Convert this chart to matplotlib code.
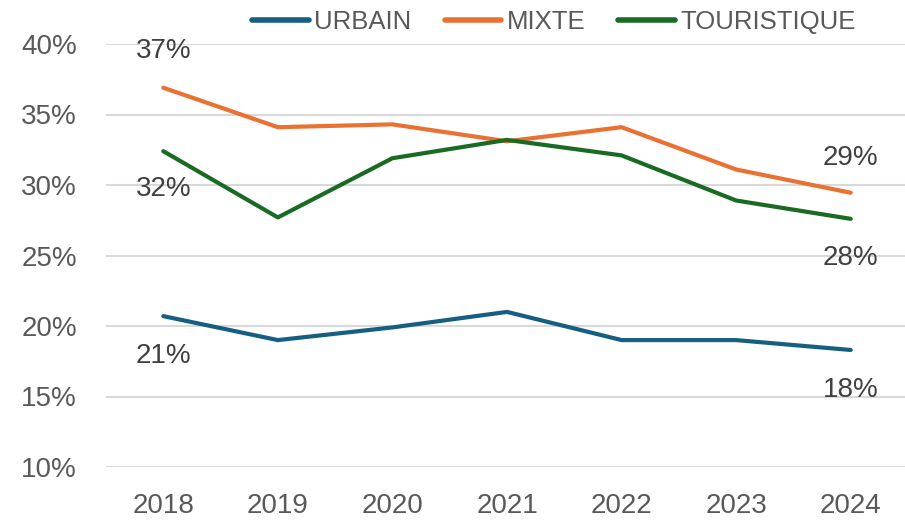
import matplotlib.pyplot as plt

# ======================================================================
# Data (in %)
# ======================================================================
years = ["2018", "2019", "2020", "2021", "2022", "2023", "2024"]
urbain = [20.7, 19.0, 19.9, 21.0, 19.0, 19.0, 18.3]
mixte = [36.9, 34.1, 34.3, 33.1, 34.1, 31.1, 29.45]
touristique = [32.4, 27.7, 31.9, 33.2, 32.1, 28.9, 27.6]
y_ticks = [10, 15, 20, 25, 30, 35, 40]

series = [
    ("URBAIN", urbain, "#156082", (-28.5, -28.5)),
    ("MIXTE", mixte, "#E97132", (26.5, 25)),
    ("TOURISTIQUE", touristique, "#196B24", (-27.5, -28)),
]

plt.rcParams['font.family'] = ['Liberation Sans', 'DejaVu Sans']

fig = plt.figure(figsize=(9.05, 5.2), dpi=100)
ax = fig.add_axes([106 / 905, 53 / 520, 802 / 905, 423 / 520])

x = list(range(len(years)))
for name, vals, color, (off_first, off_last) in series:
    ax.plot(x, vals, color=color, lw=3, solid_capstyle='round',
            solid_joinstyle='round', label=name, zorder=3)
    # labels on first and last point only
    for i, off in ((0, off_first), (len(vals) - 1, off_last)):
        ax.annotate(f"{vals[i]:.0f}%", (x[i], vals[i]), xytext=(0, off),
                    textcoords='offset points', ha='center', va='center',
                    fontsize=20, color='#404040', zorder=4)

# axes formatting
ax.set_xlim(-0.5, 6.5)
ax.set_ylim(10, 40)
ax.set_xticks(x)
ax.set_xticklabels(years)
ax.set_yticks(y_ticks)
ax.set_yticklabels([f"{t}%" for t in y_ticks])
ax.tick_params(axis='both', length=0, labelsize=20, labelcolor='#595959')
ax.tick_params(axis='y', pad=21)
ax.tick_params(axis='x', pad=19)
ax.grid(axis='y', color='#d9d9d9', lw=1.5, zorder=0)
ax.set_axisbelow(True)
for s in ax.spines.values():
    s.set_visible(False)

leg = fig.legend(loc='center', bbox_to_anchor=(554 / 905, 1 - 22 / 520),
                 ncol=3, frameon=False, fontsize=18.5, handlelength=2.2,
                 handletextpad=0.2, columnspacing=1.3, borderaxespad=0)
for t in leg.get_texts():
    t.set_color('#595959')
for h in leg.get_lines():
    h.set_linewidth(4)
    h.set_solid_capstyle('round')

fig.savefig("out.png", dpi=100)
